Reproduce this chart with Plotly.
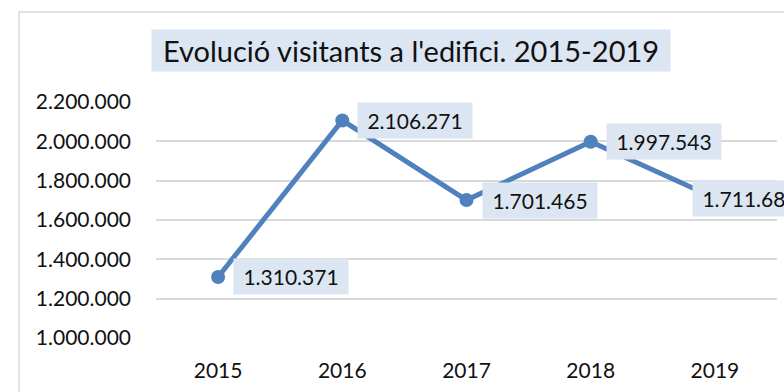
import plotly.graph_objects as go

years = ["2015", "2016", "2017", "2018", "2019"]
visitors = [1310371, 2106271, 1701465, 1997543, 1711685]
y_ticks = [1000000, 1200000, 1400000, 1600000, 1800000, 2000000, 2200000]
title_text = "Evolució visitants a l'edifici. 2015-2019"

FONT = "Lato"
BLUE = "#4F81BD"
BOX = "#DCE6F2"
GRID = "#D9D9D9"
TXT = "#111111"

def fmt(v):
    return f"{v:,}".replace(",", ".")

fig = go.Figure()
fig.add_trace(go.Scatter(
    x=years, y=visitors, mode="lines+markers",
    line=dict(color=BLUE, width=5),
    marker=dict(color=BLUE, size=14),
    hoverinfo="skip", showlegend=False, cliponaxis=False,
))

# last label is pushed left by the chart edge, covering its marker (as in the original)
label_shifts = [15, 15, 15, 15, -23]
annotations = []
for i, (v, s) in enumerate(zip(visitors, label_shifts)):
    annotations.append(dict(
        x=i, y=v, xref="x", yref="y", text=fmt(v), showarrow=False,
        xanchor="left", yanchor="middle", xshift=s,
        bgcolor=BOX, borderpad=5, width=104, align="center",
        font=dict(family=FONT, size=21, color=TXT),
    ))
annotations.append(dict(
    x=0.4106, y=1.22, xref="paper", yref="paper", text=title_text,
    showarrow=False, xanchor="center", yanchor="middle",
    bgcolor=BOX, borderpad=3, width=512, align="center",
    font=dict(family=FONT, size=29, color=TXT),
))

fig.update_layout(
    width=784, height=392,
    margin=dict(l=156, r=7, t=102, b=54),
    paper_bgcolor="white", plot_bgcolor="white",
    separators=",.",
    font=dict(family=FONT, size=21, color=TXT),
    annotations=annotations,
    shapes=[dict(type="rect", xref="paper", yref="paper",
                 x0=-0.2205, x1=1.2, y0=-0.5, y1=1.381,
                 line=dict(color=GRID, width=1.5), layer="below")],
    xaxis=dict(type="category", range=[-0.5, 4.5], showgrid=False,
               showline=False, ticks="", ticklabelstandoff=18,
               automargin=False,
               tickfont=dict(family=FONT, size=21, color=TXT)),
    yaxis=dict(range=[1000000, 2200000], tickvals=y_ticks,
               ticktext=[fmt(t) for t in y_ticks],
               showgrid=True, gridcolor=GRID, gridwidth=1.5,
               zeroline=False, showline=False, ticks="",
               ticklabelstandoff=24, automargin=False,
               tickfont=dict(family=FONT, size=21, color=TXT)),
)

fig.write_html("out.html", config={"displayModeBar": False},
               post_script="document.body.style.margin='0';document.body.style.overflow='hidden';")
